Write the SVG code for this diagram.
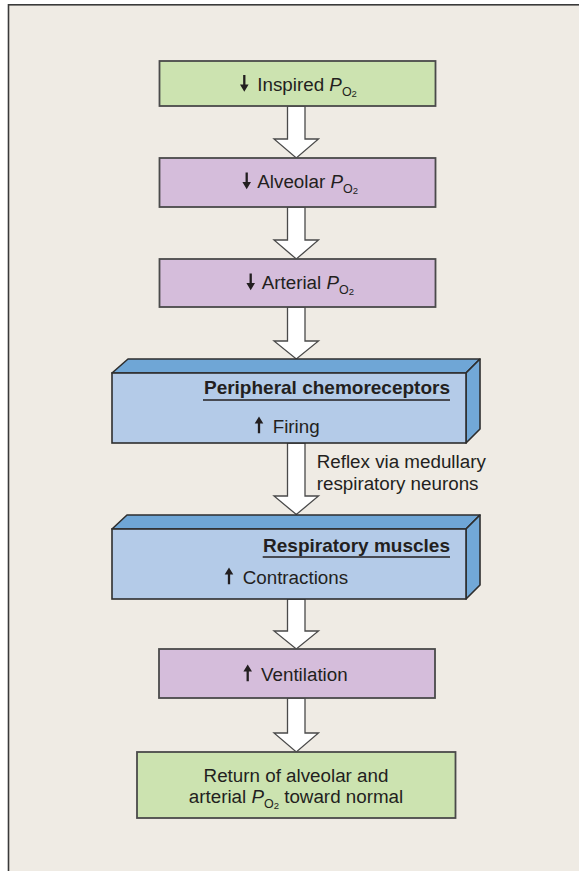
<svg xmlns="http://www.w3.org/2000/svg" xmlns:xlink="http://www.w3.org/1999/xlink" width="579" height="871" viewBox="0 0 579 871">
  <style>
    .frame { fill: #efebe4; stroke: #3a3a3a; stroke-width: 1.6; }
    .box { stroke: #4a4a4a; stroke-width: 1.8; }
    .green { fill: #cce3b0; }
    .purple { fill: #d5bddb; }
    .blue-front { fill: #b4cbe8; stroke: #2e2e2e; stroke-width: 1.6; }
    .blue-top { fill: #6fa6d6; stroke: #2e2e2e; stroke-width: 1.6; stroke-linejoin: round; }
    .blue-side { fill: #72a8d7; stroke: #2e2e2e; stroke-width: 1.6; stroke-linejoin: round; }
    .arrow { fill: #ffffff; stroke: #4a4a4a; stroke-width: 1.3; stroke-linejoin: miter; }
    text { font-family: "Liberation Sans", Arial, sans-serif; fill: #231f20; }
    .lbl { font-size: 18.8px; }
    .title { font-size: 19px; font-weight: bold; }
    .it { font-style: italic; }
    .sub { font-size: 12.5px; }
    .sub2 { font-size: 9.5px; }
    .ul { stroke: #231f20; stroke-width: 1.4; }
    .glyph { fill: #231f20; }
  </style>
  <defs>
    <!-- small solid arrow used before labels (down); up version is mirrored -->
    <path id="dn" class="glyph" d="M-1.15,0 H1.15 V9.6 H4.3 L0,16.7 L-4.3,9.6 H-1.15 Z"/>
    <path id="up" class="glyph" d="M-1.15,16.7 H1.15 V7.1 H4.3 L0,0 L-4.3,7.1 H-1.15 Z"/>
  </defs>

  <!-- page -->
  <rect x="0" y="0" width="579" height="871" fill="#ffffff"/>
  <rect class="frame" x="8.5" y="4.8" width="620" height="900"/>

  <!-- hollow block arrows between steps -->
  <g id="connectors">
    <path class="arrow" d="M287.5,106 H305 V139 H318.5 L296.3,158 L274,139 H287.5 Z"/>
    <path class="arrow" d="M287.5,207 H305 V240 H318.5 L296.3,259 L274,240 H287.5 Z"/>
    <path class="arrow" d="M287.5,307 H305 V341 H318.5 L296.3,359 L274,341 H287.5 Z"/>
    <path class="arrow" d="M287.5,443 H305 V496 H318.5 L296.3,514.5 L274,496 H287.5 Z"/>
    <path class="arrow" d="M287.5,599 H305 V631 H318.5 L296.3,649 L274,631 H287.5 Z"/>
    <path class="arrow" d="M287.5,698 H305 V733 H318.5 L296.3,752 L274,733 H287.5 Z"/>
    <text class="lbl" x="316.7" y="468.3">Reflex via medullary</text>
    <text class="lbl" x="316.7" y="490">respiratory neurons</text>
  </g>

  <g id="inspired">
    <rect class="box green" x="159.5" y="61" width="276" height="45"/>
    <use href="#dn" x="244.3" y="75"/>
    <text class="lbl" x="257.3" y="90.7">Inspired <tspan class="it">P</tspan><tspan class="sub" dy="4.8">O</tspan><tspan class="sub2" dy="1">2</tspan></text>
  </g>

  <g id="alveolar">
    <rect class="box purple" x="159.5" y="158" width="276" height="49"/>
    <use href="#dn" x="246.7" y="172.5"/>
    <text class="lbl" x="257.3" y="188.3">Alveolar <tspan class="it">P</tspan><tspan class="sub" dy="4.8">O</tspan><tspan class="sub2" dy="1">2</tspan></text>
  </g>

  <g id="arterial">
    <rect class="box purple" x="159.5" y="259" width="276" height="48"/>
    <use href="#dn" x="250.7" y="273.5"/>
    <text class="lbl" x="261.7" y="289.3">Arterial <tspan class="it">P</tspan><tspan class="sub" dy="4.8">O</tspan><tspan class="sub2" dy="1">2</tspan></text>
  </g>

  <g id="chemoreceptors">
    <polygon class="blue-top" points="112,373 128,359 480,359 466,373"/>
    <polygon class="blue-side" points="466,373 480,359 480,429 466,443"/>
    <rect class="blue-front" x="112" y="373" width="354" height="70"/>
    <text class="title" x="450" y="394" text-anchor="end">Peripheral chemoreceptors</text>
    <line class="ul" x1="203" y1="400" x2="450" y2="400"/>
    <use href="#up" x="259" y="416.5"/>
    <text class="lbl" x="272.7" y="432.7">Firing</text>
  </g>

  <g id="muscles">
    <polygon class="blue-top" points="112,529 127,515 480,515 466,529"/>
    <polygon class="blue-side" points="466,529 480,515 480,585 466,599"/>
    <rect class="blue-front" x="112" y="529" width="354" height="70"/>
    <text class="title" x="450" y="551.7" text-anchor="end">Respiratory muscles</text>
    <line class="ul" x1="262.7" y1="557" x2="450" y2="557"/>
    <use href="#up" x="229" y="567.5"/>
    <text class="lbl" x="242.7" y="584">Contractions</text>
  </g>

  <g id="ventilation">
    <rect class="box purple" x="159" y="649" width="276" height="49"/>
    <use href="#up" x="247.7" y="664.5"/>
    <text class="lbl" x="261" y="680.7">Ventilation</text>
  </g>

  <g id="return">
    <rect class="box green" x="137" y="752" width="318.5" height="66"/>
    <text class="lbl" x="296" y="781.7" text-anchor="middle">Return of alveolar and</text>
    <text class="lbl" x="296" y="802.7" text-anchor="middle">arterial <tspan class="it">P</tspan><tspan class="sub" dy="5.5">O</tspan><tspan class="sub2" dy="1">2</tspan><tspan dy="-6.5"> toward normal</tspan></text>
  </g>
</svg>
